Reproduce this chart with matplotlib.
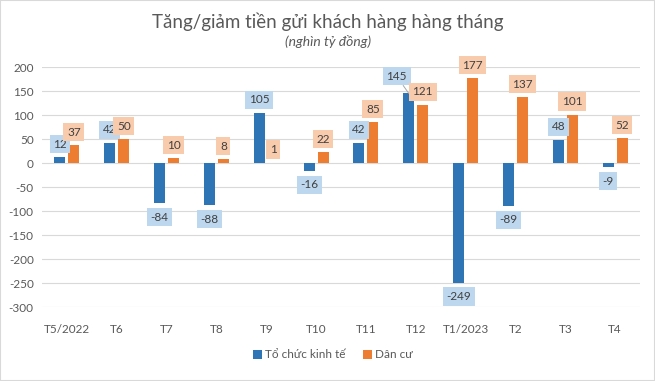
import matplotlib
matplotlib.use("Agg")
import matplotlib.pyplot as plt
from matplotlib.patches import Rectangle
import numpy as np

categories = ["T5/2022", "T6", "T7", "T8", "T9", "T10", "T11", "T12", "T1/2023", "T2", "T3", "T4"]
to_chuc_kinh_te = [12, 42, -84, -88, 105, -16, 42, 145, -249, -89, 48, -9]
dan_cu = [37, 50, 10, 8, 1, 22, 85, 121, 177, 137, 101, 52]
yticks = [200, 150, 100, 50, 0, -50, -100, -150, -200, -250, -300]

plt.rcParams['font.family'] = ['Lato', 'Noto Sans', 'DejaVu Sans']
plt.rcParams['axes.unicode_minus'] = False

BLUE = "#2E75B6"
ORANGE = "#ED7D31"
BLUE_L = "#BDD7EE"
ORANGE_L = "#F8CBAD"
TXT = "#404040"

fig = plt.figure(figsize=(6.55, 3.81), dpi=100)
ax = fig.add_axes([42/655, 1-307/381, (640-42)/655, (307-67)/381])

x = np.arange(len(categories))
w = 0.22
off = 0.14
ax.bar(x - off, to_chuc_kinh_te, w, color=BLUE, label="Tổ chức kinh tế", zorder=3)
ax.bar(x + off, dan_cu, w, color=ORANGE, label="Dân cư", zorder=3)

ax.set_xlim(-0.5, len(categories) - 0.5)
ax.set_ylim(-300, 200)
ax.set_yticks(yticks)
ax.set_yticklabels([str(v) for v in yticks])
ax.set_xticks(x)
ax.set_xticklabels(categories)
ax.grid(axis='y', color="#D9D9D9", lw=0.8, zorder=0)
for s in ax.spines.values():
    s.set_visible(False)
ax.tick_params(axis='both', length=0, colors="#595959", labelsize=8.5)
ax.tick_params(axis='x', pad=12)
ax.tick_params(axis='y', pad=6)

def label(xi, val, bg, dx=0, dy=None, line=False):
    if dy is None:
        dy = 13 if val >= 0 else -14
    kw = dict(xy=(xi, val), xytext=(dx, dy), textcoords='offset pixels',
              ha='center', va='center', fontsize=8.5, color=TXT, zorder=5,
              annotation_clip=False,
              bbox=dict(boxstyle='square,pad=0.3', fc=bg, ec='none'))
    if line:
        kw['arrowprops'] = dict(arrowstyle='-', color="#A6A6A6", lw=0.7,
                                shrinkA=0, shrinkB=0)
    ax.annotate(str(val), **kw)

for i, v in enumerate(to_chuc_kinh_te):
    if categories[i] == "T12":
        label(i - off, v, BLUE_L, dx=-12, dy=17, line=True)
    else:
        label(i - off, v, BLUE_L)
for i, v in enumerate(dan_cu):
    label(i + off, v, ORANGE_L)

fig.text(328/655, 1-22/381, "Tăng/giảm tiền gửi khách hàng hàng tháng", ha='center', va='center',
         fontsize=13.5, color="#595959")
fig.text(328/655, 1-41/381, "(nghìn tỷ đồng)", ha='center', va='center',
         fontsize=10, style='italic', color="#595959")

fig.legend(loc='center', bbox_to_anchor=(333/655, 1-355/381), ncol=2, frameon=False,
           fontsize=8.5, handlelength=0.7, handleheight=0.7, handletextpad=0.3,
           columnspacing=1.5, labelcolor="#595959")

fig.patches.append(Rectangle((0, 0), 1, 1, transform=fig.transFigure, fill=False,
                             ec="#D9D9D9", lw=1.5))

fig.savefig("out.png", dpi=100)
